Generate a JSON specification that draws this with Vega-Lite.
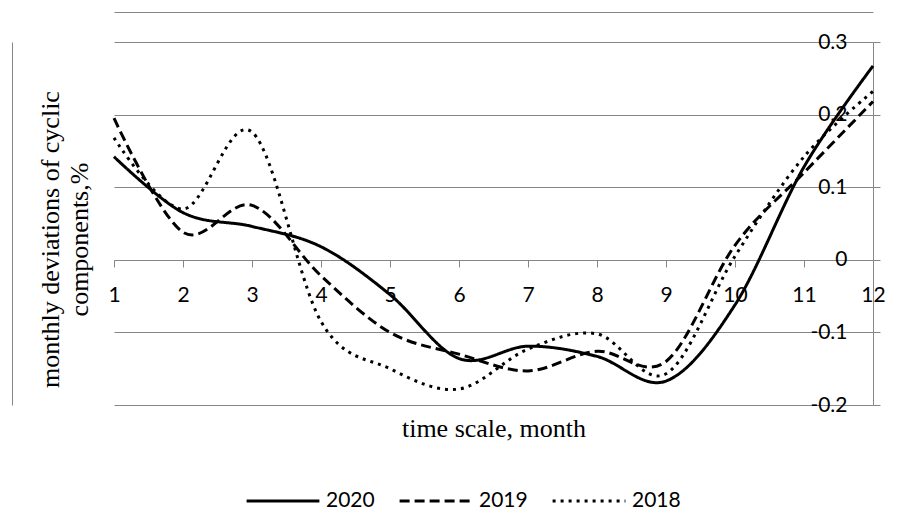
{
  "$schema": "https://vega.github.io/schema/vega-lite/v6.json",
  "autosize": {"type": "none"},
  "padding": {"left": 114, "top": 42, "right": 33, "bottom": 127},
  "width": 759,
  "height": 363,
  "background": "white",
  "config": {
    "font": "Lato",
    "view": {"stroke": null},
    "axis": {"domainColor": "#868686", "tickColor": "#868686", "gridColor": "#868686", "labelColor": "black", "titleColor": "black"}
  },
  "data": {
    "values": [
      {"month": 1, "value": 0.142, "series": "2020"},
      {"month": 2, "value": 0.065, "series": "2020"},
      {"month": 3, "value": 0.046, "series": "2020"},
      {"month": 4, "value": 0.018, "series": "2020"},
      {"month": 5, "value": -0.048, "series": "2020"},
      {"month": 6, "value": -0.136, "series": "2020"},
      {"month": 7, "value": -0.119, "series": "2020"},
      {"month": 8, "value": -0.133, "series": "2020"},
      {"month": 9, "value": -0.167, "series": "2020"},
      {"month": 10, "value": -0.062, "series": "2020"},
      {"month": 11, "value": 0.128, "series": "2020"},
      {"month": 12, "value": 0.267, "series": "2020"},
      {"month": 1, "value": 0.195, "series": "2019"},
      {"month": 2, "value": 0.038, "series": "2019"},
      {"month": 3, "value": 0.075, "series": "2019"},
      {"month": 4, "value": -0.022, "series": "2019"},
      {"month": 5, "value": -0.1, "series": "2019"},
      {"month": 6, "value": -0.13, "series": "2019"},
      {"month": 7, "value": -0.153, "series": "2019"},
      {"month": 8, "value": -0.126, "series": "2019"},
      {"month": 9, "value": -0.14, "series": "2019"},
      {"month": 10, "value": 0.02, "series": "2019"},
      {"month": 11, "value": 0.12, "series": "2019"},
      {"month": 12, "value": 0.218, "series": "2019"},
      {"month": 1, "value": 0.168, "series": "2018"},
      {"month": 2, "value": 0.07, "series": "2018"},
      {"month": 3, "value": 0.176, "series": "2018"},
      {"month": 4, "value": -0.085, "series": "2018"},
      {"month": 5, "value": -0.15, "series": "2018"},
      {"month": 6, "value": -0.178, "series": "2018"},
      {"month": 7, "value": -0.123, "series": "2018"},
      {"month": 8, "value": -0.102, "series": "2018"},
      {"month": 9, "value": -0.157, "series": "2018"},
      {"month": 10, "value": 0.005, "series": "2018"},
      {"month": 11, "value": 0.142, "series": "2018"},
      {"month": 12, "value": 0.232, "series": "2018"}
    ]
  },
  "layer": [
    {
      "mark": {"type": "line", "interpolate": "cardinal", "tension": 0, "color": "black", "strokeWidth": 3},
      "encoding": {
        "x": {
          "field": "month", "type": "quantitative",
          "scale": {"domain": [1, 12], "nice": false, "zero": false},
          "axis": {
            "orient": "bottom", "offset": -145, "values": [1,2,3,4,5,6,7,8,9,10,11,12],
            "grid": false, "tickSize": 7, "labelFont": "Lato", "labelFontSize": 21, "labelPadding": 17,
            "labelFlush": false, "labelOverlap": false,
            "title": "time scale, month", "titleFont": "Liberation Serif", "titleFontSize": 26,
            "titleFontWeight": "normal", "titleBaseline": "middle", "titleY": 168
          }
        },
        "y": {
          "field": "value", "type": "quantitative",
          "scale": {"domain": [-0.2, 0.3], "nice": false, "zero": false},
          "axis": {
            "orient": "right", "values": [-0.2, -0.1, 0, 0.1, 0.2, 0.3], "grid": true,
            "tickSize": 7, "labelFont": "Lato", "labelFontSize": 21, "labelAlign": "right",
            "labelPadding": -33, "labelFlush": false, "labelOverlap": false,
            "labelExpr": "datum.value < 0 ? '-' + format(-datum.value, '~g') : format(datum.value, '~g')",
            "title": null
          }
        },
        "strokeDash": {
          "field": "series", "type": "nominal",
          "scale": {"domain": ["2020", "2019", "2018"], "range": [[1, 0], [10, 5], [3, 5]]},
          "legend": {
            "orient": "none", "legendX": 131, "legendY": 421, "direction": "horizontal",
            "title": null, "padding": 0, "symbolType": "stroke", "symbolSize": 5300,
            "symbolStrokeWidth": 3, "symbolStrokeColor": "black",
            "labelFont": "Lato", "labelFontSize": 21, "labelColor": "black",
            "labelOffset": 5, "columnPadding": 18
          }
        }
      }
    },
    {
      "mark": {"type": "line", "opacity": 0},
      "encoding": {
        "x": {
          "field": "month", "type": "quantitative",
          "axis": {"orient": "top", "offset": 30, "domain": true, "ticks": false, "labels": false, "grid": false, "title": null}
        },
        "y": {
          "field": "value", "type": "quantitative",
          "axis": {
            "orient": "left", "offset": 102, "domain": true, "ticks": false, "labels": false, "grid": false,
            "title": ["monthly deviations of cyclic", "components,%"],
            "titleFont": "Liberation Serif", "titleFontSize": 26, "titleFontWeight": "normal",
            "titleAngle": 270, "titleAlign": "center", "titleBaseline": "middle",
            "titleLineHeight": 29, "titleX": 38.5, "titleY": 197
          }
        },
        "detail": {"field": "series", "type": "nominal"}
      }
    }
  ],
  "resolve": {"axis": {"x": "independent", "y": "independent"}}
}
